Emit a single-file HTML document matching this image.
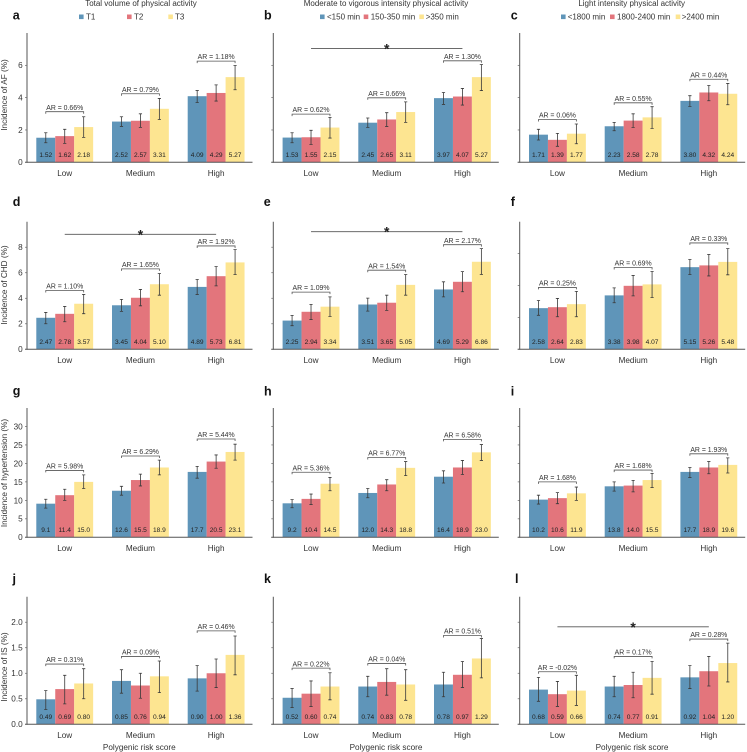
<!DOCTYPE html>
<html lang="en">
<head>
<meta charset="utf-8">
<title>Incidence by polygenic risk score and physical activity</title>
<style>
html,body{margin:0;padding:0;background:#fff;width:747px;height:752px;overflow:hidden}
svg{display:block;font-family:"Liberation Sans",sans-serif;fill:#333;filter:blur(0.3px)}
.head{font-size:8px}
.letter{font-size:12.5px;font-weight:bold;fill:#111}
</style>
</head>
<body>
<svg id="figure" width="747" height="752" viewBox="0 0 747 752" xmlns="http://www.w3.org/2000/svg">
  <text class="head" x="141" y="6" text-anchor="middle">Total volume of physical activity</text>
  <text class="head" x="386" y="6" text-anchor="middle">Moderate to vigorous intensity physical activity</text>
  <text class="head" x="631.7" y="6" text-anchor="middle">Light intensity physical activity</text>

  <g>
    <rect x="79" y="14.5" width="4.6" height="4.6" fill="#5f95b9"/>
    <text class="head" x="86" y="19.6">T1</text>
    <rect x="127" y="14.5" width="4.6" height="4.6" fill="#e3757c"/>
    <text class="head" x="134" y="19.6">T2</text>
    <rect x="168.3" y="14.5" width="4.6" height="4.6" fill="#fde591"/>
    <text class="head" x="175" y="19.6">T3</text>
  </g>
  <g>
    <rect x="320" y="14.5" width="4.6" height="4.6" fill="#5f95b9"/>
    <text class="head" x="327" y="19.6">&lt;150 min</text>
    <rect x="363.7" y="14.5" width="4.6" height="4.6" fill="#e3757c"/>
    <text class="head" x="370.7" y="19.6">150-350 min</text>
    <rect x="419.3" y="14.5" width="4.6" height="4.6" fill="#fde591"/>
    <text class="head" x="425.7" y="19.6">&gt;350 min</text>
  </g>
  <g>
    <rect x="561" y="14.5" width="4.6" height="4.6" fill="#5f95b9"/>
    <text class="head" x="567.7" y="19.6">&lt;1800 min</text>
    <rect x="610" y="14.5" width="4.6" height="4.6" fill="#e3757c"/>
    <text class="head" x="617" y="19.6">1800-2400 min</text>
    <rect x="675.7" y="14.5" width="4.6" height="4.6" fill="#fde591"/>
    <text class="head" x="681.7" y="19.6">&gt;2400 min</text>
  </g>

  <text class="letter" x="12.7" y="19.3">a</text>
  <text class="letter" x="264" y="19.3">b</text>
  <text class="letter" x="510.7" y="19.3">c</text>
  <text class="letter" x="12.7" y="206">d</text>
  <text class="letter" x="263.7" y="206">e</text>
  <text class="letter" x="510.7" y="206">f</text>
  <text class="letter" x="12.7" y="395">g</text>
  <text class="letter" x="264" y="395.5">h</text>
  <text class="letter" x="510.7" y="395.5">i</text>
  <text class="letter" x="12.5" y="583">j</text>
  <text class="letter" x="264" y="583">k</text>
  <text class="letter" x="515" y="583">l</text>

  <text font-size="8.2" text-anchor="middle" transform="translate(6.8,95) rotate(-90)">Incidence of AF (%)</text>
  <text font-size="8.2" text-anchor="middle" transform="translate(6.8,285) rotate(-90)">Incidence of CHD (%)</text>
  <text font-size="8.2" text-anchor="middle" transform="translate(6.8,473) rotate(-90)">Incidence of hypertension (%)</text>
  <text font-size="8.2" text-anchor="middle" transform="translate(6.8,667) rotate(-90)">Incidence of IS (%)</text>

  <text font-size="8.2" text-anchor="middle" x="139.3" y="750">Polygenic risk score</text>
  <text font-size="8.2" text-anchor="middle" x="386" y="750">Polygenic risk score</text>
  <text font-size="8.2" text-anchor="middle" x="632" y="750">Polygenic risk score</text>
</svg>

<script>
const categories = ['Low', 'Medium', 'High'];

const ticksAF = [0, 2, 4, 6];
const ticksCHD = [0, 2, 4, 6, 8];
const ticksCHDLight = [0, 2, 4, 6];
const ticksHT = [0, 5, 10, 15, 20, 25, 30];
const ticksIS = [0, 0.5, 1, 1.5, 2];

const valuesA = [[1.52, 1.62, 2.18], [2.52, 2.57, 3.31], [4.09, 4.29, 5.27]];
const lowerA = [[1.21, 1.17, 1.54], [2.22, 2.16, 2.65], [3.70, 3.79, 4.49]];
const upperA = [[1.83, 2.04, 2.82], [2.82, 3.00, 3.95], [4.44, 4.79, 5.99]];
const arLevelA = [3.13, 4.24, 6.26];
const arTextA = ['0.66', '0.79', '1.18'];

const valuesB = [[1.53, 1.55, 2.15], [2.45, 2.65, 3.11], [3.97, 4.07, 5.27]];
const lowerB = [[1.21, 1.11, 1.50], [2.16, 2.22, 2.47], [3.58, 3.54, 4.44]];
const upperB = [[1.83, 1.98, 2.78], [2.74, 3.07, 3.74], [4.32, 4.57, 6.05]];
const arLevelB = [2.98, 3.99, 6.28];
const arTextB = ['0.62', '0.66', '1.30'];

const valuesC = [[1.71, 1.39, 1.77], [2.23, 2.58, 2.78], [3.80, 4.32, 4.24]];
const lowerC = [[1.38, 0.99, 1.15], [1.95, 2.16, 2.10], [3.46, 3.81, 3.56]];
const upperC = [[2.04, 1.79, 2.37], [2.47, 3.00, 3.44], [4.12, 4.75, 4.88]];
const arLevelC = [2.65, 3.68, 5.14];
const arTextC = ['0.06', '0.55', '0.44'];

const valuesD = [[2.47, 2.78, 3.57], [3.45, 4.04, 5.10], [4.89, 5.73, 6.81]];
const lowerD = [[2.00, 2.16, 2.79], [2.97, 3.41, 4.24], [4.30, 4.97, 5.86]];
const upperD = [[2.89, 3.36, 4.30], [3.91, 4.69, 5.94], [5.47, 6.48, 7.81]];
const arLevelD = [4.61, 6.30, 8.10];
const arTextD = ['1.10', '1.65', '1.92'];

const valuesE = [[2.25, 2.94, 3.34], [3.51, 3.65, 5.05], [4.69, 5.29, 6.86]];
const lowerE = [[1.85, 2.34, 2.58], [2.99, 3.05, 4.24], [4.11, 4.51, 5.86]];
const upperE = [[2.66, 3.52, 4.11], [4.01, 4.24, 5.86], [5.29, 6.09, 7.89]];
const arLevelE = [4.48, 6.20, 8.20];
const arTextE = ['1.09', '1.54', '2.17'];

const valuesF = [[2.58, 2.64, 2.83], [3.38, 3.98, 4.07], [5.15, 5.26, 5.48]];
const lowerF = [[2.13, 2.04, 2.04], [2.92, 3.35, 3.25], [4.69, 4.60, 4.67]];
const upperF = [[3.06, 3.19, 3.63], [3.85, 4.63, 4.88], [5.63, 5.94, 6.31]];
const arLevelF = [3.88, 5.13, 6.67];
const arTextF = ['0.25', '0.69', '0.33'];

const valuesG = [[9.1, 11.4, 15.0], [12.6, 15.5, 18.9], [17.7, 20.5, 23.1]];
const lowerG = [[7.9, 10.0, 13.2], [11.4, 13.9, 16.9], [16.0, 18.7, 20.9]];
const upperG = [[10.3, 13.0, 16.9], [13.8, 17.1, 20.9], [19.2, 22.3, 25.2]];
const arLevelG = [18.1, 22.0, 26.6];
const arTextG = ['5.98', '6.29', '5.44'];

const valuesH = [[9.2, 10.4, 14.5], [12.0, 14.3, 18.8], [16.4, 18.9, 23.0]];
const lowerH = [[8.0, 8.9, 12.6], [10.7, 12.6, 16.7], [14.7, 17.0, 20.8]];
const upperH = [[10.2, 11.7, 16.2], [13.2, 15.6, 20.5], [18.0, 20.8, 25.1]];
const arLevelH = [17.6, 21.6, 26.5];
const arTextH = ['5.36', '6.77', '6.58'];

const valuesI = [[10.2, 10.6, 11.9], [13.8, 14.0, 15.5], [17.7, 18.9, 19.6]];
const lowerI = [[9.0, 9.1, 10.0], [12.5, 12.3, 13.5], [16.2, 17.2, 17.4]];
const upperI = [[11.4, 12.1, 13.6], [15.0, 15.4, 17.3], [18.9, 20.5, 21.5]];
const arLevelI = [15.0, 18.2, 22.6];
const arTextI = ['1.68', '1.68', '1.93'];

const valuesJ = [[0.49, 0.69, 0.80], [0.85, 0.76, 0.94], [0.90, 1.00, 1.36]];
const lowerJ = [[0.29, 0.40, 0.50], [0.61, 0.51, 0.62], [0.65, 0.72, 0.97]];
const upperJ = [[0.66, 0.96, 1.09], [1.07, 1.00, 1.24], [1.15, 1.28, 1.73]];
const arLevelJ = [1.18, 1.33, 1.83];
const arTextJ = ['0.31', '0.09', '0.46'];

const valuesK = [[0.52, 0.60, 0.74], [0.74, 0.83, 0.78], [0.78, 0.97, 1.29]];
const lowerK = [[0.33, 0.35, 0.48], [0.54, 0.57, 0.47], [0.54, 0.72, 0.91]];
const upperK = [[0.70, 0.85, 1.01], [0.94, 1.09, 1.07], [1.02, 1.23, 1.68]];
const arLevelK = [1.10, 1.19, 1.74];
const arTextK = ['0.22', '0.04', '0.51'];

const valuesL = [[0.68, 0.59, 0.66], [0.74, 0.77, 0.91], [0.92, 1.04, 1.20]];
const lowerL = [[0.45, 0.35, 0.37], [0.54, 0.52, 0.59], [0.70, 0.75, 0.83]];
const upperL = [[0.92, 0.84, 0.96], [0.94, 1.02, 1.23], [1.15, 1.33, 1.59]];
const arLevelL = [1.03, 1.33, 1.67];
const arTextL = ['-0.02', '0.17', '0.28'];

const sigLevelB = 7.04;
const sigLevelD = 9.01;
const sigLevelE = 9.22;
const sigLevelL = 1.91;

const panels = [
  {id: 'a', col: 0, row: 0, max: 8, ticks: ticksAF, v: valuesA, lo: lowerA, hi: upperA, lvl: arLevelA, ar: arTextA, sig: null},
  {id: 'b', col: 1, row: 0, max: 8, ticks: ticksAF, v: valuesB, lo: lowerB, hi: upperB, lvl: arLevelB, ar: arTextB, sig: sigLevelB},
  {id: 'c', col: 2, row: 0, max: 8, ticks: ticksAF, v: valuesC, lo: lowerC, hi: upperC, lvl: arLevelC, ar: arTextC, sig: null},
  {id: 'd', col: 0, row: 1, max: 10, ticks: ticksCHD, v: valuesD, lo: lowerD, hi: upperD, lvl: arLevelD, ar: arTextD, sig: sigLevelD},
  {id: 'e', col: 1, row: 1, max: 10, ticks: ticksCHD, v: valuesE, lo: lowerE, hi: upperE, lvl: arLevelE, ar: arTextE, sig: sigLevelE},
  {id: 'f', col: 2, row: 1, max: 8, ticks: ticksCHDLight, v: valuesF, lo: lowerF, hi: upperF, lvl: arLevelF, ar: arTextF, sig: null},
  {id: 'g', col: 0, row: 2, max: 35, ticks: ticksHT, v: valuesG, lo: lowerG, hi: upperG, lvl: arLevelG, ar: arTextG, sig: null},
  {id: 'h', col: 1, row: 2, max: 35, ticks: ticksHT, v: valuesH, lo: lowerH, hi: upperH, lvl: arLevelH, ar: arTextH, sig: null},
  {id: 'i', col: 2, row: 2, max: 35, ticks: ticksHT, v: valuesI, lo: lowerI, hi: upperI, lvl: arLevelI, ar: arTextI, sig: null},
  {id: 'j', col: 0, row: 3, max: 2.5, ticks: ticksIS, v: valuesJ, lo: lowerJ, hi: upperJ, lvl: arLevelJ, ar: arTextJ, sig: null},
  {id: 'k', col: 1, row: 3, max: 2.5, ticks: ticksIS, v: valuesK, lo: lowerK, hi: upperK, lvl: arLevelK, ar: arTextK, sig: null},
  {id: 'l', col: 2, row: 3, max: 2.5, ticks: ticksIS, v: valuesL, lo: lowerL, hi: upperL, lvl: arLevelL, ar: arTextL, sig: sigLevelL}
];

const seriesColors = ['#5f95b9', '#e3757c', '#fde591'];
const rowBaseline = [162.3, 349.3, 537.3, 724.3];
const rowTop = [33, 221.7, 408, 596.7];
const rowValueDecimals = [2, 2, 1, 2];
const rowTickDecimals = [0, 0, 0, 1];
const colAxisX = [27, 273.3, 519.7];

const BAR_W = 18.95;
const GROUP_STEP = 75.7;
const GROUP_OFFSET = 9.3;
const AXIS_LEN = 225.5;

const SVG_NS = 'http://www.w3.org/2000/svg';
const figure = document.getElementById('figure');

function make(parent, tag, attrs) {
  const el = document.createElementNS(SVG_NS, tag);
  for (const k in attrs) el.setAttribute(k, attrs[k]);
  parent.appendChild(el);
  return el;
}

function yScale(row, domainMax) {
  const base = rowBaseline[row];
  const k = (base - rowTop[row]) / domainMax;
  return function (value) { return base - value * k; };
}

function xBarLeft(col, group, series) {
  return colAxisX[col] + GROUP_OFFSET + group * GROUP_STEP + series * BAR_W;
}

function xBarCenter(col, group, series) {
  return xBarLeft(col, group, series) + BAR_W / 2;
}

panels.forEach(function (p) {
  const y = yScale(p.row, p.max);
  const base = rowBaseline[p.row];
  const axisX = colAxisX[p.col];

  const g = make(figure, 'g', {});
  
  

  p.v.forEach(function (groupValues, gi) {
    groupValues.forEach(function (val, si) {
      const top = y(val);
      const bar = make(g, 'rect', {x: xBarLeft(p.col, gi, si), y: top, width: BAR_W, height: base - top, fill: seriesColors[si]});
      
      
    });
  });

  p.v.forEach(function (groupValues, gi) {
    groupValues.forEach(function (val, si) {
      const cx = xBarCenter(p.col, gi, si);
      const yLo = y(p.lo[gi][si]);
      const yHi = y(p.hi[gi][si]);
      const d = 'M' + (cx - 1.6) + ' ' + yHi + 'H' + (cx + 1.6) + 'M' + cx + ' ' + yHi + 'V' + yLo + 'M' + (cx - 1.6) + ' ' + yLo + 'H' + (cx + 1.6);
      const err = make(g, 'path', {d: d, stroke: '#3a3a3a', 'stroke-width': 0.8, fill: 'none'});
      
      

      const label = make(g, 'text', {x: cx, y: base - 5.4, 'font-size': 6.6, 'text-anchor': 'middle', fill: '#222'});
      label.textContent = val.toFixed(rowValueDecimals[p.row]);
      
      
    });

    const x1 = xBarCenter(p.col, gi, 0);
    const x2 = xBarCenter(p.col, gi, 2);
    const by = y(p.lvl[gi]);
    const br = make(g, 'path', {d: 'M' + x1 + ' ' + (by + 2) + 'V' + by + 'H' + x2 + 'V' + (by + 2), stroke: '#555', 'stroke-width': 0.8, fill: 'none'});
    
    

    const at = make(g, 'text', {x: (x1 + x2) / 2, y: by - 1.9, 'font-size': 6.9, 'text-anchor': 'middle'});
    at.textContent = 'AR = ' + p.ar[gi] + '%';
    
    

    const cat = make(g, 'text', {x: xBarCenter(p.col, gi, 1), y: base + 13.7, 'font-size': 8.2, 'text-anchor': 'middle'});
    cat.textContent = categories[gi];
    
    
  });

  const yAxis = make(g, 'line', {x1: axisX, x2: axisX, y1: rowTop[p.row], y2: base + 0.5, stroke: '#555', 'stroke-width': 1});
  
  

  const xAxis = make(g, 'line', {x1: axisX - 2, x2: axisX + AXIS_LEN, y1: base, y2: base, stroke: '#555', 'stroke-width': 1});
  
  

  p.ticks.forEach(function (t) {
    const tk = make(g, 'line', {x1: axisX - 2, x2: axisX, y1: y(t), y2: y(t), stroke: '#666', 'stroke-width': 0.7});
    
    
    if (p.col === 0) {
      const lb = make(g, 'text', {x: axisX - 4.3, y: y(t) + 2.9, 'font-size': 8.2, 'text-anchor': 'end'});
      lb.textContent = t.toFixed(rowTickDecimals[p.row]);
      
      
    }
  });

  if (p.sig !== null) {
    const sy = y(p.sig);
    const sx1 = xBarCenter(p.col, 0, 1);
    const sx2 = xBarCenter(p.col, 2, 1);
    const sl = make(g, 'line', {x1: sx1, x2: sx2, y1: sy, y2: sy, stroke: '#555', 'stroke-width': 0.9});
    
    
    const st = make(g, 'text', {x: (sx1 + sx2) / 2, y: sy + 5, 'font-size': 14, 'font-weight': 'bold', 'text-anchor': 'middle', fill: '#222'});
    st.textContent = '*';
    
    
  }
});
</script>
</body>
</html>
